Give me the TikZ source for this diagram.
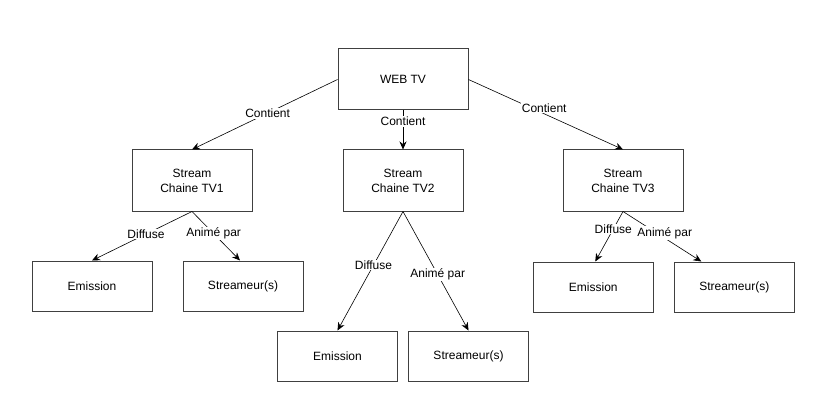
\documentclass[tikz,border=0pt]{standalone}
\usepackage{fontspec}
\setmainfont{Liberation Sans}
\usetikzlibrary{arrows.meta, positioning}

\begin{document}
\begin{tikzpicture}[
    x=1pt, y=-1pt,
    box/.style={
        rectangle, draw=black!75, line width=1pt,
        minimum width=120pt, minimum height=50pt,
        align=center, font=\fontsize{12}{15}\selectfont,
        fill=white
    },
    topbox/.style={box, minimum width=130pt, minimum height=61pt},
    streambox/.style={box, minimum height=61pt},
    lbl/.style={
        fill=white, inner sep=1pt,
        font=\fontsize{12}{14}\selectfont
    },
    arr/.style={
        -{Stealth[length=8pt,width=7pt]},
        line width=0.6pt, color=black
    },
]
\useasboundingbox (0,0) rectangle (819,417);

% ROOT
\node[topbox] (webtv) at (403,79.5) {WEB TV};

% ROW 1
\node[streambox, below=39pt of webtv] (tv2) {Stream\\Chaine TV2};
\node[streambox, left=90pt of tv2]    (tv1) {Stream\\Chaine TV1};
\node[streambox, right=99pt of tv2]   (tv3) {Stream\\Chaine TV3};

% ROW 2
\node[box, below=49pt of tv1, xshift=-100pt] (emis1) {Emission};
\node[box, right=30pt of emis1] (strm1) {Streameur(s)};

\node[box, below=119pt of tv2, xshift=-65.5pt] (emis2) {Emission};
\node[box, right=10pt of emis2] (strm2) {Streameur(s)};

\node[box, below=50pt of tv3, xshift=-29.7pt] (emis3) {Emission};
\node[box, right=20pt of emis3] (strm3) {Streameur(s)};

% Connectors root -> streams
\draw[arr] (webtv.west)  -- node[lbl, pos=.48] {Contient} (tv1.north);
\draw[arr] (webtv.south) -- node[lbl, pos=.28] {Contient} (tv2.north);
\draw[arr] (webtv.east)  -- node[lbl, pos=.49, yshift=6pt] {Contient} (tv3.north);

% Connectors streams -> emission / streameurs
\draw[arr] (tv1.south) -- node[lbl, pos=.46] {Diffuse} (emis1.north);
\draw[arr] (tv1.south) -- node[lbl, pos=.45] {Animé par} ([xshift=-3pt]strm1.north);

\draw[arr] (tv2.south) -- node[lbl, pos=.45] {Diffuse} (emis2.north);
\draw[arr] (tv2.south) -- node[lbl, pos=.53] {Animé par} (strm2.north);

\draw[arr] (tv3.south) -- node[lbl, pos=.35] {Diffuse} ([xshift=2pt]emis3.north);
\draw[arr] (tv3.south) -- node[lbl, pos=.43, xshift=8pt] {Animé par} ([xshift=-33pt]strm3.north);

\end{tikzpicture}
\end{document}
